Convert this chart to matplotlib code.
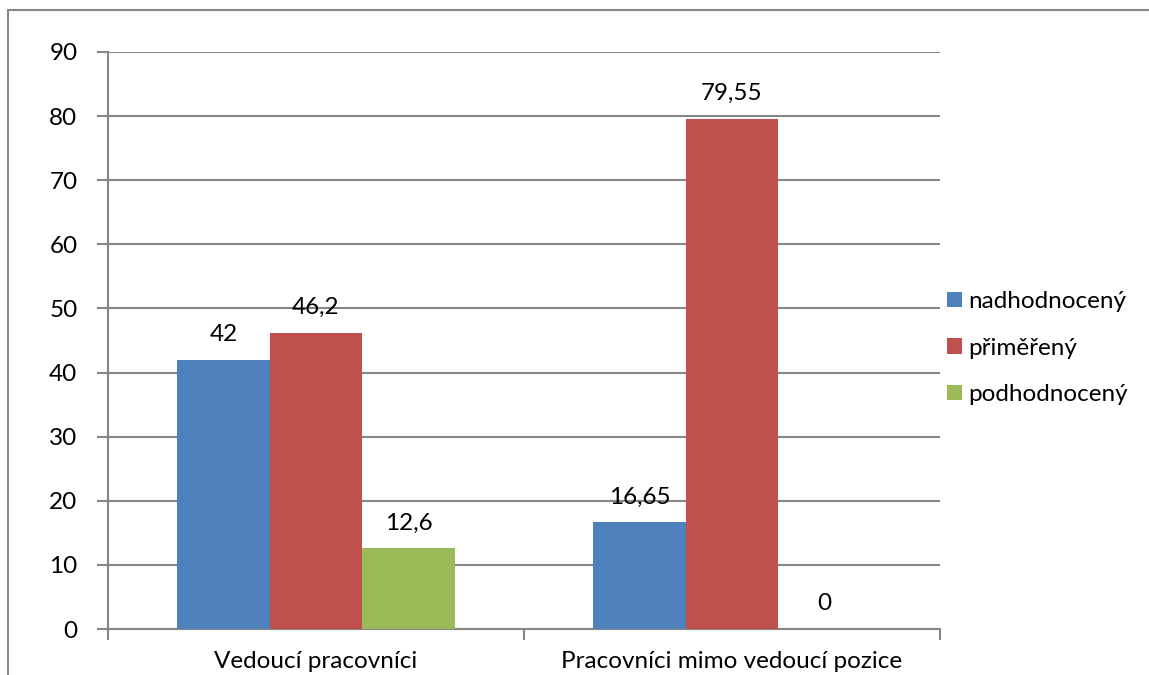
import numpy as np
import matplotlib.pyplot as plt
from matplotlib.patches import Rectangle

categories = ['Vedoucí pracovníci', 'Pracovníci mimo vedoucí pozice']
series = ['nadhodnocený', 'přiměřený', 'podhodnocený']
values = [[42, 16.65], [46.2, 79.55], [12.6, 0]]
labels = [['42', '16,65'], ['46,2', '79,55'], ['12,6', '0']]
colors = ['#4f81bd', '#c0504d', '#9bbb59']

plt.rcParams['font.family'] = ['Lato', 'DejaVu Sans']
fs = 17.5
fig = plt.figure(figsize=(11.49, 6.75), dpi=100)
ax = fig.add_axes([108/1149, 46/675, 832/1149, 577/675])

# outer chart frame (cut at right and bottom, like the source)
fig.patches.append(Rectangle((8/1149, -0.1), 1.2, (665/675) + 0.1, transform=fig.transFigure,
                             fill=False, edgecolor='#888888', linewidth=1.5))

grey = '#868686'
x = np.arange(len(categories))
w = 1 / 4.5
for i, s in enumerate(series):
    pos = x + (i - 1) * w
    ax.bar(pos, values[i], width=w, color=colors[i], label=s, zorder=3)
    for p, v, t in zip(pos, values[i], labels[i]):
        ax.text(p, v + 2.3, t, ha='center', va='bottom', fontsize=fs)

ax.set_xlim(-0.5, 1.5)
ax.set_ylim(0, 90)
ax.set_yticks(range(0, 91, 10))
ax.set_xticks([-0.5, 0.5, 1.5], minor=False)
ax.set_xticklabels([])
ax.set_xticks(x, minor=True)
ax.set_xticklabels(categories, minor=True, fontsize=fs)
ax.tick_params(axis='x', which='minor', length=0, pad=16)
ax.tick_params(axis='x', which='major', length=8, color=grey, width=1.5)
ax.tick_params(axis='y', length=8, color=grey, width=1.5, labelsize=fs, pad=14)
ax.grid(axis='y', color=grey, linewidth=1.5, zorder=0)
for side in ['top', 'right']:
    ax.spines[side].set_visible(False)
for side in ['left', 'bottom']:
    ax.spines[side].set_color(grey)
    ax.spines[side].set_linewidth(1.5)

ax.legend(loc='center left', bbox_to_anchor=(1.0, 0.487), frameon=False, fontsize=fs,
          handlelength=0.6, handleheight=0.6, handletextpad=0.25, labelspacing=1.05,
          borderaxespad=0.0, borderpad=0.3)

fig.savefig('out.png', dpi=100)
